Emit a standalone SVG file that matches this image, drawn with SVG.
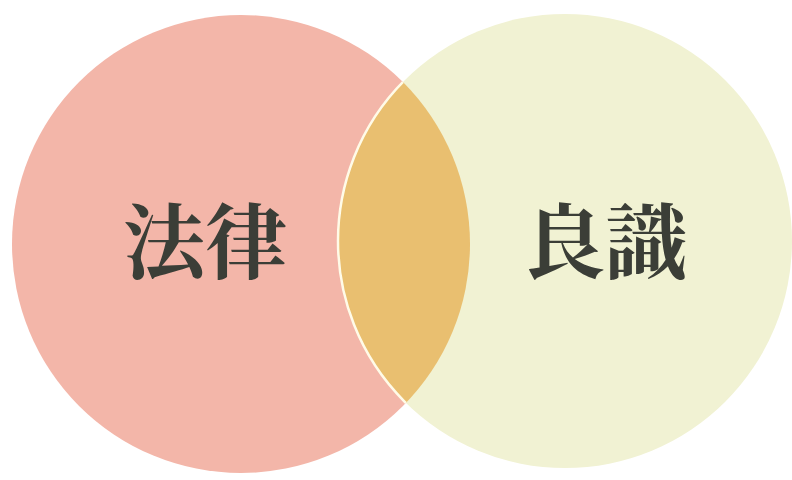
<svg xmlns="http://www.w3.org/2000/svg" width="792" height="480" viewBox="0 0 792 480">
  <style>
    .label { font-family: "Noto Serif CJK JP", "Noto Sans CJK JP", serif; font-size: 82px; font-weight: bold; fill: #3b3e37; text-anchor: middle; }
  </style>
  <defs>
    <clipPath id="clipLeft">
      <circle cx="241" cy="244" r="229"/>
    </clipPath>
  </defs>
  <rect width="792" height="480" fill="#ffffff"/>
  <g id="node-law">
    <circle cx="241" cy="244" r="229" fill="#f3b6a9"/>
  </g>
  <g id="node-conscience">
    <circle cx="565" cy="241" r="227" fill="#f1f2d3"/>
  </g>
  <g id="node-overlap" clip-path="url(#clipLeft)">
    <circle cx="565" cy="241" r="227" fill="#e9bf70"/>
    <circle cx="565" cy="241" r="227" fill="none" stroke="#fffbe8" stroke-width="2.5"/>
  </g>
  <g id="labels">
    <text class="label" x="205" y="272">法律</text>
    <text class="label" x="605" y="272">良識</text>
  </g>
  <g id="connectors"></g>
</svg>
